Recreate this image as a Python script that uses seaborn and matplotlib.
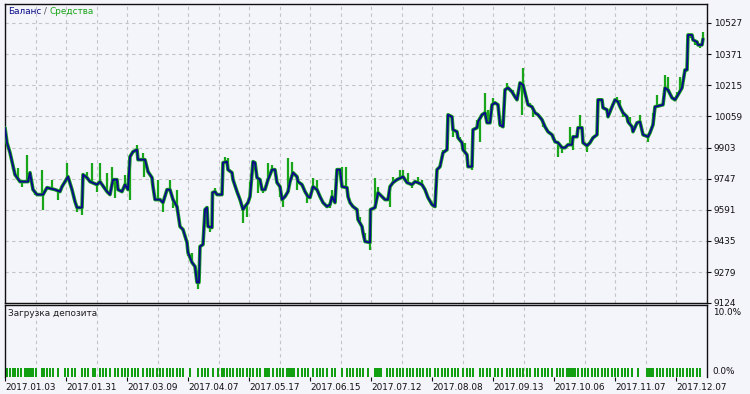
import numpy as np
import pandas as pd
import matplotlib
matplotlib.use("Agg")
import matplotlib.pyplot as plt
import seaborn as sns

# ---- data -------------------------------------------------------------
balance_x = [0, 2, 5, 10, 15, 23, 25, 28, 32, 38, 42, 50, 55, 57, 63, 67, 70, 72, 77, 78,
             82, 85, 92, 95, 102, 105, 108, 112, 113, 117, 120, 123, 125, 128, 132, 133, 140, 143, 147, 148,
             150, 155, 158, 162, 165, 168, 172, 175, 178, 182, 183, 187, 190, 192, 194, 195, 198, 200, 202, 203,
             207, 207.5, 210, 212, 217, 218, 222, 223, 227, 228, 232, 235, 238, 240, 243, 245, 248, 250, 252, 255,
             257, 260, 263, 267, 270, 272, 275, 277, 280, 283, 285, 288, 292, 293, 297, 300, 303, 305, 308, 312,
             315, 318, 322, 325, 327, 330, 332, 335, 337, 342, 343, 345, 348, 352, 353, 357, 358, 360, 365, 365.5,
             370, 373, 377, 380, 383, 385, 388, 392, 398, 402, 407, 410, 413, 417, 420, 423, 427, 430, 432, 435,
             438, 442, 443, 447, 448, 452, 453, 457, 458, 462, 463, 467, 468, 472, 473, 477, 480, 482, 485, 487,
             490, 493, 495, 498, 500, 503, 507, 510, 512, 515, 518, 520, 523, 527, 530, 533, 537, 540, 543, 547,
             550, 553, 557, 560, 563, 567, 568, 572, 573, 577, 578, 582, 585, 588, 592, 593, 597, 598, 602, 603,
             607, 610, 613, 615, 618, 622, 623, 627, 628, 632, 635, 638, 643, 645, 648, 650, 658, 660, 663, 667,
             670, 673, 677, 680, 682, 683, 687, 688, 692, 693, 697, 698]
balance_v = [10002, 9927, 9877, 9767, 9732, 9732, 9777, 9692, 9667, 9667, 9702, 9692, 9682, 9707, 9757, 9692, 9632, 9602, 9602, 9767,
             9752, 9732, 9717, 9732, 9682, 9667, 9742, 9742, 9692, 9682, 9717, 9692, 9857, 9882, 9892, 9842, 9842, 9782, 9752, 9707,
             9642, 9642, 9627, 9692, 9692, 9642, 9607, 9507, 9492, 9427, 9377, 9327, 9307, 9227, 9227, 9407, 9417, 9592, 9602, 9507,
             9502, 9677, 9682, 9667, 9667, 9827, 9832, 9792, 9777, 9742, 9682, 9642, 9592, 9607, 9627, 9657, 9832, 9827, 9752, 9742,
             9692, 9692, 9742, 9792, 9792, 9727, 9707, 9642, 9657, 9682, 9732, 9777, 9757, 9732, 9717, 9682, 9657, 9652, 9707, 9692,
             9657, 9627, 9607, 9617, 9657, 9627, 9792, 9792, 9707, 9702, 9657, 9627, 9607, 9592, 9542, 9507, 9477, 9432, 9427, 9592,
             9602, 9677, 9657, 9642, 9642, 9707, 9727, 9742, 9757, 9727, 9717, 9732, 9727, 9717, 9692, 9652, 9617, 9607, 9792, 9807,
             9877, 9892, 10067, 10057, 9992, 9982, 9952, 9927, 9892, 9867, 9807, 9807, 9992, 10002, 10032, 10067, 10077, 10027, 10027, 10117,
             10127, 10117, 10017, 10007, 10192, 10202, 10182, 10157, 10142, 10227, 10217, 10177, 10117, 10107, 10077, 10067, 10042, 10007, 9982, 9967,
             9932, 9927, 9902, 9902, 9917, 9917, 9957, 9957, 10002, 10002, 9927, 9912, 9927, 9952, 9967, 10142, 10142, 10102, 10092, 10057,
             10107, 10142, 10132, 10107, 10077, 10057, 10032, 10007, 9982, 10027, 10032, 9967, 9957, 9977, 10017, 10107, 10117, 10202, 10192, 10152,
             10142, 10167, 10202, 10292, 10292, 10467, 10467, 10442, 10432, 10417, 10417, 10447]

equity_x = [8, 13, 17, 22, 30, 37, 38, 47, 53, 62, 72, 77, 82, 87, 92, 95, 102, 107, 110, 120,
            125, 132, 138, 139, 147, 153, 158, 165, 168, 172, 183, 187, 193, 202, 205, 210, 220, 223, 233, 238,
            242, 245, 253, 258, 263, 267, 275, 278, 283, 287, 292, 297, 302, 308, 312, 325, 327, 337, 341, 343,
            355, 360, 365, 370, 373, 385, 388, 395, 398, 403, 407, 413, 417, 430, 435, 438, 445, 448, 455, 460,
            467, 472, 475, 480, 483, 488, 495, 502, 508, 517, 518, 525, 528, 538, 548, 553, 557, 565, 568, 575,
            582, 585, 593, 602, 612, 615, 618, 625, 628, 635, 643, 648, 652, 660, 663, 672, 675, 682, 685, 690,
            695, 698]
equity_v = [9792, 9802, 9707, 9867, 9667, 9792, 9592, 9742, 9642, 9827, 9582, 9567, 9782, 9827, 9682, 9827, 9777, 9807, 9652, 9767,
            9642, 9917, 9877, 9757, 9717, 9742, 9582, 9742, 9602, 9692, 9357, 9377, 9192, 9607, 9482, 9702, 9857, 9852, 9677, 9527,
            9557, 9732, 9677, 9677, 9827, 9817, 9657, 9607, 9852, 9832, 9692, 9707, 9627, 9752, 9742, 9602, 9692, 9807, 9807, 9677,
            9557, 9477, 9392, 9752, 9707, 9607, 9757, 9792, 9792, 9777, 9702, 9757, 9742, 9602, 9807, 9892, 10057, 9957, 9957, 9927,
            9792, 10042, 9932, 10177, 10092, 10152, 10007, 10227, 10192, 10067, 10302, 10127, 10057, 10007, 9942, 9857, 9877, 10007, 9892, 10067,
            9882, 9927, 10127, 10077, 10157, 10142, 10057, 10057, 9992, 10067, 9932, 10077, 10167, 10267, 10257, 10182, 10257, 10327, 10452, 10417,
            10402, 10482]

load_x = [2, 5, 8, 10, 13, 16, 20, 22, 24, 26, 28, 31, 37, 39, 42, 45, 48, 53, 60, 63,
          67, 70, 77, 80, 83, 88, 90, 95, 98, 101, 105, 110, 113, 117, 120, 123, 127, 130, 133, 138,
          142, 145, 148, 152, 155, 158, 162, 165, 168, 172, 175, 178, 185, 193, 197, 200, 203, 208, 213, 217,
          219, 222, 225, 228, 232, 235, 238, 242, 245, 248, 252, 255, 260, 262, 264, 268, 272, 275, 278, 282,
          283, 285, 287, 289, 293, 297, 300, 303, 308, 312, 315, 318, 322, 327, 330, 337, 342, 345, 348, 352,
          355, 358, 363, 370, 372, 374, 376, 382, 385, 388, 392, 395, 398, 402, 405, 408, 412, 415, 418, 422,
          425, 430, 433, 437, 440, 443, 447, 450, 453, 458, 462, 465, 468, 475, 478, 482, 485, 490, 493, 497,
          502, 505, 508, 512, 515, 518, 522, 525, 530, 533, 537, 540, 543, 547, 552, 555, 558, 562, 564, 566,
          568, 570, 573, 577, 580, 583, 587, 590, 593, 597, 600, 603, 607, 610, 613, 617, 620, 623, 627, 633,
          642, 644, 646, 648, 652, 655, 658, 662, 665, 668, 672, 675, 678, 682, 685, 688, 692, 695]
load_pct = [1.2] * len(load_x)

y_ticks = [9124, 9279, 9435, 9591, 9747, 9903, 10059, 10215, 10371, 10527]
x_tick_pos = [0, 61, 122, 183, 244, 305, 366, 427, 488, 549, 610, 671]
x_tick_labels = ["2017.01.03", "2017.01.31", "2017.03.09", "2017.04.07", "2017.05.17", "2017.06.15",
                 "2017.07.12", "2017.08.08", "2017.09.13", "2017.10.06", "2017.11.07", "2017.12.07"]
load_labels = ["0.0%", "10.0%"]

# ---- style ------------------------------------------------------------
sns.set_theme(style="white")
plt.rcParams["font.family"] = ["DejaVu Sans"]
BG = "#F4F4FB"
BLUE = "#0C0C8A"
GREEN = "#19A519"
GRID = "#C4C4C8"
FS = 6.4

fig = plt.figure(figsize=(7.5, 3.94), dpi=100, facecolor=BG)
W, H = 750.0, 394.0
ax = fig.add_axes([5 / W, 1 - 303 / H, 702 / W, 299 / H])
ax2 = fig.add_axes([5 / W, 1 - 377 / H, 702 / W, 72 / H])

df_bal = pd.DataFrame({"x": balance_x, "v": balance_v})
bal_at = np.interp(equity_x, balance_x, balance_v)

for a in (ax, ax2):
    a.set_facecolor(BG)
    a.set_xlim(0, 702)
    a.set_xticks(np.arange(0, 702, 30.5), minor=True)
    a.grid(True, which="minor", axis="x", color=GRID, linestyle=(0, (3, 3)), linewidth=0.8)
    a.set_axisbelow(True)
    for s in ("left", "top", "right"):
        a.spines[s].set_color("#101010")
        a.spines[s].set_linewidth(1.0)

# main panel
ax.set_ylim(9124, 10622)
ax.set_yticks(y_ticks)
ax.grid(True, which="major", axis="y", color=GRID, linestyle=(0, (3, 3)), linewidth=0.8)
ax.vlines(equity_x, bal_at, equity_v, color=GREEN, linewidth=1.6, zorder=2)
sns.lineplot(data=df_bal, x="x", y="v", ax=ax, color=GREEN, linewidth=2.6, estimator=None, zorder=3)
sns.lineplot(data=df_bal, x="x", y="v", ax=ax, color=BLUE, linewidth=1.4, estimator=None, zorder=4)
ax.set_xlabel("")
ax.set_ylabel("")
ax.set_xticks([])
ax.yaxis.tick_right()
ax.tick_params(axis="y", which="major", length=3, width=0.8, color="#101010",
               labelsize=FS, labelcolor="#101010", pad=2, right=True, left=False)
ax.spines["bottom"].set_color("#101010")
ax.spines["bottom"].set_linewidth(1.0)

# load panel
ax2.set_ylim(0, 10)
ax2.bar(load_x, load_pct, width=1.5, bottom=0, color="#12A012", linewidth=0, align="center")
ax2.set_yticks([])
ax2.text(1.0, 10, load_labels[1], transform=ax2.get_yaxis_transform(), fontsize=FS,
         color="#101010", ha="left", va="center")
ax2.texts[-1].set_position((1.008, 8.9))
ax2.text(1.008, 0.8, load_labels[0], transform=ax2.get_yaxis_transform(), fontsize=FS,
         color="#101010", ha="left", va="center")
ax2.spines["bottom"].set_visible(False)
ax2.set_xlabel("")
ax2.set_ylabel("")
ax2.set_xticks(x_tick_pos)
ax2.set_xticklabels(x_tick_labels, ha="left")
ax2.tick_params(axis="x", length=3, width=0.8, color="#101010", labelsize=FS,
                labelcolor="#101010", pad=1, bottom=True)

# titles: place consecutive coloured pieces using measured extents
fig.canvas.draw()
renderer = fig.canvas.get_renderer()
x0 = 8 / W
y0 = 1 - 11 / H
for txt, col in (("Баланс", BLUE), (" / ", "#505050"), ("Средства", GREEN)):
    t = fig.text(x0, y0, txt, color=col, fontsize=FS, va="center", ha="left")
    bb = t.get_window_extent(renderer)
    x0 = bb.x1 / fig.bbox.width
fig.text(8 / W, 1 - 313 / H, "Загрузка депозита", color="#202020", fontsize=FS, va="center", ha="left")

fig.savefig("out.png", dpi=100, facecolor=BG)
